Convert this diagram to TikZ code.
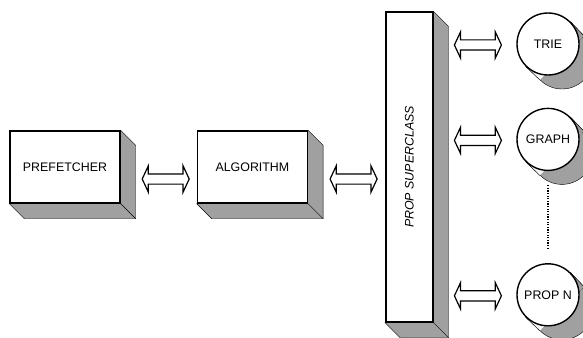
\documentclass[tikz,border=0pt]{standalone}
\usepackage{fontspec}
\setmainfont{Liberation Sans}
\usetikzlibrary{calc, backgrounds, positioning, shapes.arrows}
\definecolor{shade}{RGB}{160,160,160}

\begin{document}
\begin{tikzpicture}[x=1pt, y=-1pt, line width=1.4pt,
    block/.style={draw=black, fill=white, rectangle, minimum width=110pt, minimum height=72pt, inner sep=0pt, font=\fontsize{12.4}{14}\selectfont},
    store/.style={draw=black, fill=white, circle, minimum size=62pt, inner sep=0pt, font=\fontsize{12.4}{14}\selectfont},
    link/.style={draw=black, fill=white, double arrow, minimum height=47pt, inner sep=4.5pt, double arrow head extend=8pt, double arrow tip angle=130, line width=1.2pt},
    side/.style={draw=black, fill=shade},
    dots/.style={line width=1.3pt, dash pattern=on 1.3pt off 1.3pt},
    node distance=76pt]
		\useasboundingbox (0,0) rectangle (583,337);
		\node (pref) [block] at (65,167) {PREFETCHER};
		\node (alg) [block, right=of pref] {ALGORITHM};
		\node (super) [block, minimum width=47pt, minimum height=310pt, right=77pt of alg] {};
		\node (super label) [rotate=90, font=\fontsize{12.4}{14}\selectfont\itshape] at (super) {PROP SUPERCLASS};
		\node (trie) [store] at (548,44) {TRIE};
		\node (graph) [store, below=32pt of trie] {GRAPH};
		\node (propn) [store, below=92pt of graph] {PROP N};
		\node (pa) [link] at ($(pref.east)!.5!(alg.west)+(7,12)$) {};
		\node (as) [link] at ($(alg.east)!.5!(super.west)+(7,12)$) {};
		\foreach \c in {trie,graph,propn}
		    \node (\c link) [link] at ($(super.east |- \c)!.5!(\c.west)+(3,1)$) {};
		\draw[dots] ($(graph.south)+(0,14)$) -- ($(propn.north)+(0,-14)$);
	    \begin{scope}[on background layer]
	    \foreach \b in {pref,alg,super}{
	        \draw[side] (\b.north east) -- ++(15,15) -- ($(\b.south east)+(15,15)$) -- ($(\b.south west)+(15,15)$) -- (\b.south west) -- cycle;
	        \draw (\b.south east) -- ++(15,15);
	    }
	    \foreach \c in {trie,graph,propn}{
	        \node (\c back) [store, side] at ($(\c)+(14,14)$) {};
	        \fill[shade] (\c.45) -- (\c back.45) -- (\c back.225) -- (\c.225) -- cycle;
	        \draw (\c.45) -- (\c back.45) (\c.225) -- (\c back.225);
	    }
	    \end{scope}
\end{tikzpicture}
\end{document}
